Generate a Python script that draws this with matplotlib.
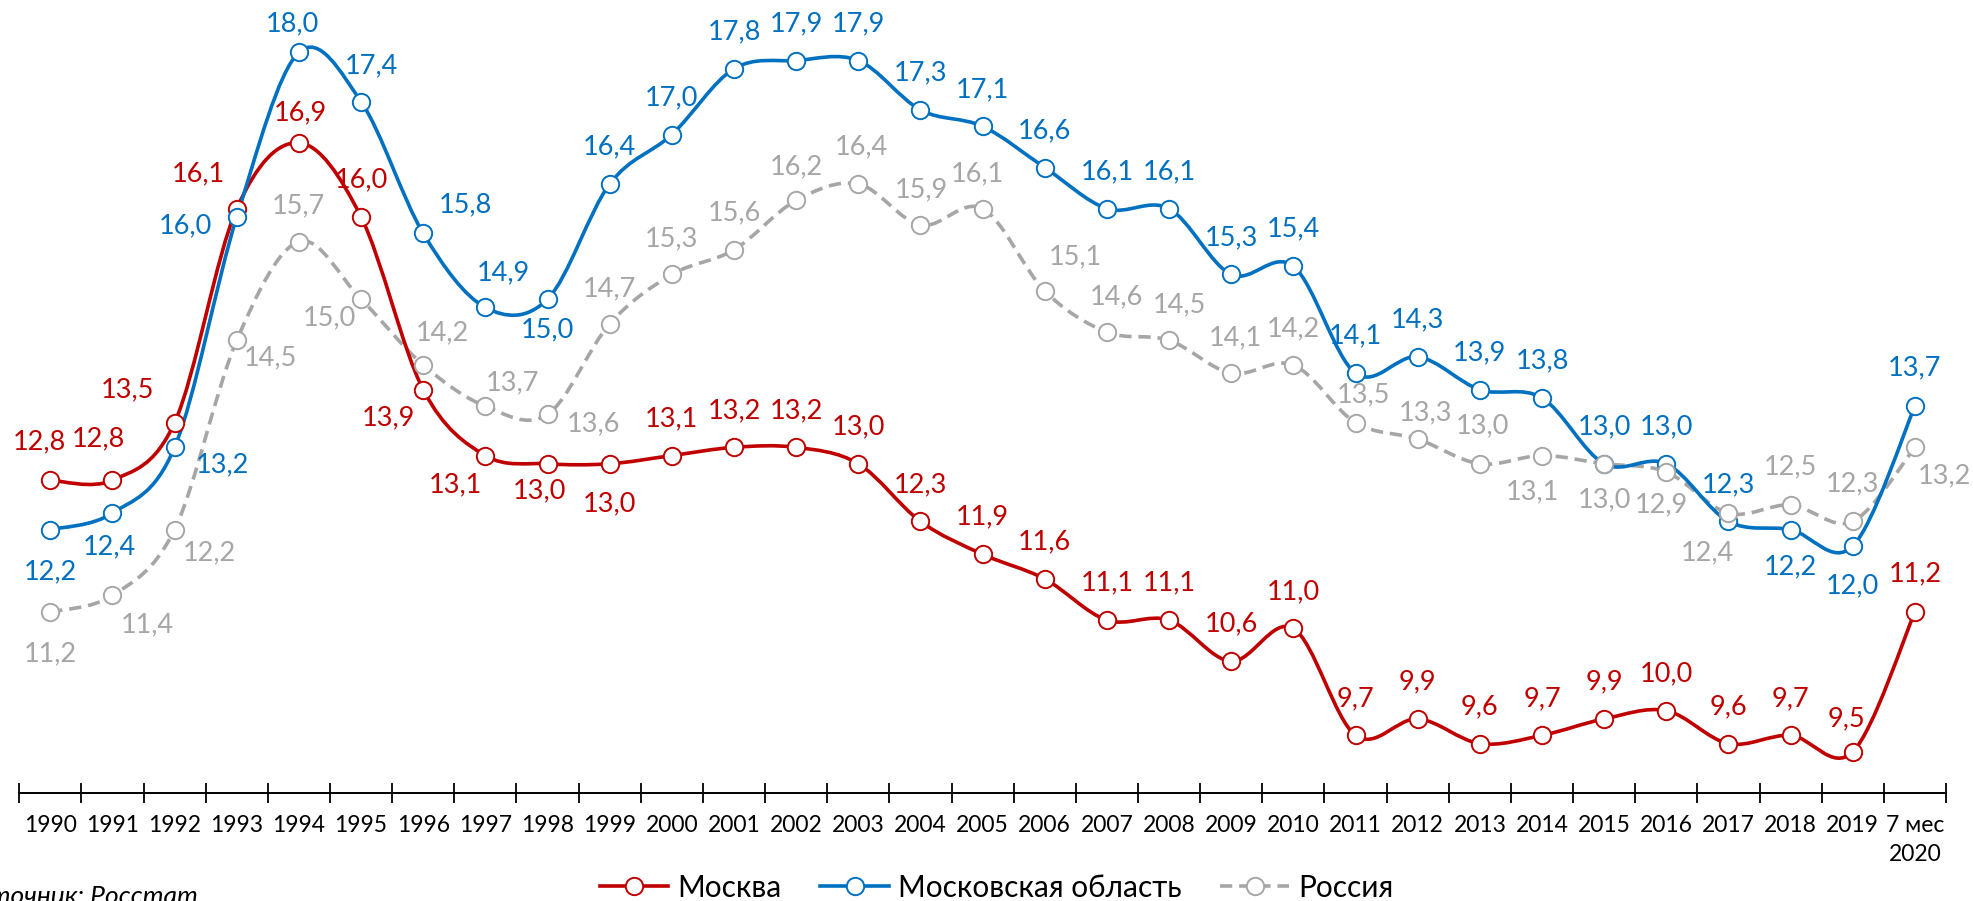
import numpy as np
import matplotlib
matplotlib.use("Agg")
import matplotlib.pyplot as plt
from matplotlib.path import Path
from matplotlib.patches import PathPatch
from matplotlib.lines import Line2D

plt.rcParams['font.family'] = ['Lato', 'Open Sans', 'DejaVu Sans']

# ===== данные =====
years = [str(y) for y in range(1990, 2020)] + ["7 мес\n2020"]
moscow = [12.8, 12.8, 13.5, 16.1, 16.9, 16.0, 13.9, 13.1, 13.0, 13.0, 13.1, 13.2, 13.2, 13.0,
          12.3, 11.9, 11.6, 11.1, 11.1, 10.6, 11.0, 9.7, 9.9, 9.6, 9.7, 9.9, 10.0, 9.6, 9.7, 9.5, 11.2]
mo_obl = [12.2, 12.4, 13.2, 16.0, 18.0, 17.4, 15.8, 14.9, 15.0, 16.4, 17.0, 17.8, 17.9, 17.9,
          17.3, 17.1, 16.6, 16.1, 16.1, 15.3, 15.4, 14.1, 14.3, 13.9, 13.8, 13.0, 13.0, 12.3, 12.2, 12.0, 13.7]
russia = [11.2, 11.4, 12.2, 14.5, 15.7, 15.0, 14.2, 13.7, 13.6, 14.7, 15.3, 15.6, 16.2, 16.4,
          15.9, 16.1, 15.1, 14.6, 14.5, 14.1, 14.2, 13.5, 13.3, 13.0, 13.1, 13.0, 12.9, 12.4, 12.5, 12.3, 13.2]

# смещения подписей (px, вверх +)
A = (0, 37)
off_moscow = [(-11, 38), (-14, 41), (-47, 33), (-38, 35), (2, 30), (0, 37), (-35, -28), (-30, -29),
              (-8, -27), (0, -40)] + [A] * 19 + [(-6, 33), (0, 38)]
off_mo = [(0, -42), (-3, -34), (48, -17), (-51, -9), (-6, 28), (10, 36), (42, 29), (18, 35), (0, -31)] \
         + [A] * 18 + [(0, 37), (0, -37), (0, -40), (0, 38)]
off_ru = [(0, -42), (35, -29), (35, -23), (34, -17), (0, 36), (-32, -19), (19, 32), (27, 23), (46, -9),
          (0, 35), (0, 36), (0, 37), (0, 34), (3, 37), (1, 35), (-5, 35), (31, 34), (9, 35), (10, 36),
          (4, 35), (0, 36), (8, 28), (8, 26), (3, 38), (-10, -36), (0, -36), (-5, -33), (-21, -40),
          (0, 38), (0, 38), (30, -28)]

RED, BLUE, GRAY = "#C00000", "#0070C0", "#A6A6A6"

def smooth_path(xs, ys):
    # сглаживание как в Excel: кубические Безье (Catmull-Rom)
    p = np.column_stack([xs, ys]).astype(float)
    n = len(p)
    verts = [p[0]]
    codes = [Path.MOVETO]
    for i in range(n - 1):
        p0 = p[i - 1] if i > 0 else p[i]
        p3 = p[i + 2] if i + 2 < n else p[i + 1]
        c1 = p[i] + (p[i + 1] - p0) / 6.0
        c2 = p[i + 1] - (p3 - p[i]) / 6.0
        verts += [c1, c2, p[i + 1]]
        codes += [Path.CURVE4] * 3
    return Path(verts, codes)

fig = plt.figure(figsize=(19.73, 9.01), dpi=100)
ax = fig.add_axes([0.00973, 0.1199, 0.9766, 0.8796])
x = np.arange(len(years))

series = [
    ("Москва", moscow, RED, "-", off_moscow, 3, 5),
    ("Московская область", mo_obl, BLUE, "-", off_mo, 4, 6),
    ("Россия", russia, GRAY, (0, (3.4, 1.9)), off_ru, 2, 7),
]
handles = []
for name, vals, col, ls, offs, zl, zm in series:
    patch = PathPatch(smooth_path(x, vals), facecolor="none", edgecolor=col, lw=2.6,
                      linestyle=ls, zorder=zl, capstyle="butt", clip_on=False)
    ax.add_patch(patch)
    ax.plot(x, vals, linestyle="none", marker="o", ms=12.5, mfc="white", mec=col, mew=1.4,
            zorder=zm, clip_on=False)
    for xi, v, (dx, dy) in zip(x, vals, offs):
        ax.annotate(f"{v:.1f}".replace(".", ","), (xi, v), xytext=(dx * 0.72, dy * 0.72),
                    textcoords="offset points", ha="center", va="center", fontsize=19.5,
                    color=col, zorder=10)
    handles.append(Line2D([], [], color=col, lw=2.6, linestyle=ls, marker="o", ms=12.5,
                          mfc="white", mec=col, mew=1.4))

ax.set_xlim(-0.5, len(years) - 0.5)
ax.set_ylim(9.0, 18.63)
for s in ["top", "right", "left"]:
    ax.spines[s].set_visible(False)
ax.spines["bottom"].set_linewidth(1.4)
ax.set_yticks([])
ax.set_xticks(np.arange(len(years) + 1) - 0.5)
ax.set_xticklabels([])
ax.tick_params(axis="x", which="major", direction="inout", length=14, width=1.3)
ax.set_xticks(x, minor=True)
ax.set_xticklabels(years, minor=True, fontsize=16.5, linespacing=1.45)
ax.tick_params(axis="x", which="minor", length=0, pad=16)

fig.legend(handles, [s[0] for s in series], loc="center", bbox_to_anchor=(0.505, 0.0145),
           ncol=3, frameon=False, fontsize=21.5, handlelength=2.3, handletextpad=0.3,
           columnspacing=1.3, borderpad=0)

fig.text(198 / 1973, -3 / 901, "Источник: Росстат", ha="right", va="baseline",
         fontsize=19, style="italic")

fig.savefig("out.png", dpi=100)
